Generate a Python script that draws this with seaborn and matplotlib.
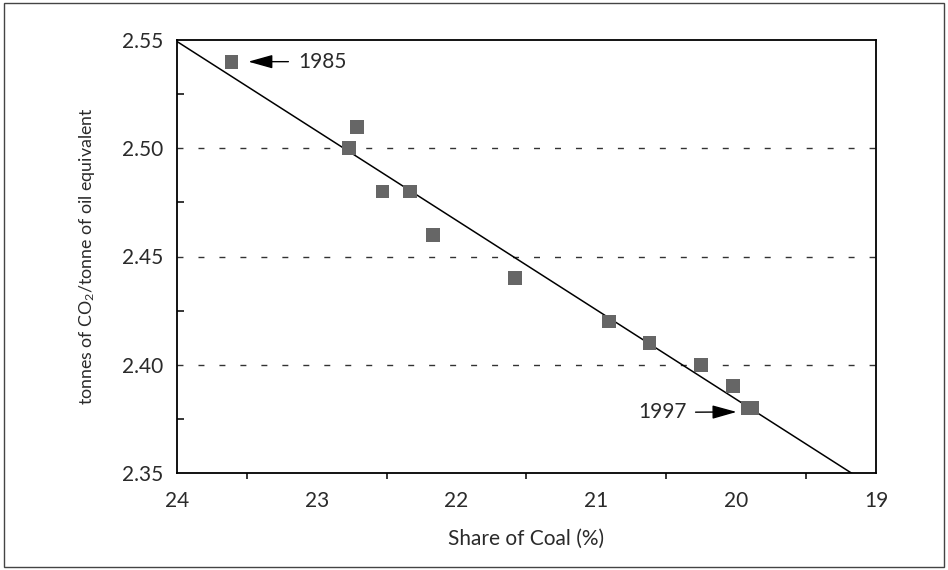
import matplotlib
matplotlib.use("Agg")
import matplotlib.pyplot as plt
import seaborn as sns
import pandas as pd
from matplotlib.ticker import MultipleLocator
from matplotlib.patches import Rectangle

# Share of coal in primary energy (%) and carbon intensity, 1985-1997
years = [1985, 1986, 1987, 1988, 1989, 1990, 1991, 1992, 1993, 1994, 1995, 1996, 1997]
coal_share = [23.61, 22.71, 22.77, 22.53, 22.33, 22.17, 21.58, 20.91, 20.62, 20.25, 20.02, 19.915, 19.887]
co2_per_toe = [2.54, 2.51, 2.50, 2.48, 2.48, 2.46, 2.44, 2.42, 2.41, 2.40, 2.39, 2.38, 2.38]

x_ticks = [24, 23, 22, 21, 20, 19]
y_ticks = [2.35, 2.40, 2.45, 2.50, 2.55]
y_grid = [2.40, 2.45, 2.50]

df = pd.DataFrame({"year": years, "coal": coal_share, "co2": co2_per_toe})

sns.set_theme(style="white")
plt.rcParams["font.family"] = ["Lato", "DejaVu Sans"]
plt.rcParams["mathtext.default"] = "regular"

fig = plt.figure(figsize=(9.48, 5.70), dpi=100)
ax = fig.add_axes([0.1867, 0.1702, 0.7373, 0.7596])

# Axis range first so the fitted line spans the full (reversed) x range
ax.set_xlim(24, 19)
ax.set_ylim(2.35, 2.55)

for g in y_grid:
    ax.axhline(g, color="#333333", lw=1.0, dashes=(4.3, 10.8), zorder=1)

sns.regplot(data=df, x="coal", y="co2", ax=ax, ci=None, truncate=False,
            scatter=False, line_kws=dict(color="black", lw=1.1, zorder=2))
sns.scatterplot(data=df, x="coal", y="co2", ax=ax, marker="s", s=100,
                color="#666666", edgecolor="none", linewidth=0, zorder=3)

ax.set_xlim(24, 19)
ax.set_ylim(2.35, 2.55)
ax.set_xticks(x_ticks)
ax.set_xticklabels([str(t) for t in x_ticks])
ax.xaxis.set_minor_locator(MultipleLocator(0.5))
ax.set_yticks(y_ticks)
ax.set_yticklabels([f"{t:.2f}" for t in y_ticks])
ax.yaxis.set_minor_locator(MultipleLocator(0.025))

tick_color = "#2a2a2a"
ax.tick_params(axis="x", which="major", direction="out", length=7, width=1.1,
               color="black", labelsize=15, pad=6, labelcolor=tick_color)
ax.tick_params(axis="x", which="minor", direction="out", length=4, width=1.1,
               color="black", bottom=True)
ax.tick_params(axis="y", which="major", direction="in", length=5, width=1.1,
               color="black", labelsize=15, pad=10, labelcolor=tick_color)
ax.tick_params(axis="y", which="minor", direction="in", length=5, width=1.1,
               color="black", left=True)

for sp in ax.spines.values():
    sp.set_color("black")
    sp.set_linewidth(1.3)

ax.set_xlabel("Share of Coal (%)", fontsize=15, color=tick_color, labelpad=13)
ax.set_ylabel("tonnes of CO$_2$/tonne of oil equivalent", fontsize=12.8,
              color=tick_color, labelpad=18)

# Labels for the first and last years of the series
first, last = 0, len(years) - 1
arrow = dict(arrowstyle="-|>,head_length=1.0,head_width=0.28",
             color="black", lw=1.0, shrinkB=0)
ax.annotate(str(years[first]), xy=(coal_share[first] - 0.12, co2_per_toe[first]),
            xytext=(coal_share[first] - 0.48, co2_per_toe[first]),
            fontsize=15, color=tick_color, va="center", ha="left",
            arrowprops=dict(arrow, shrinkA=5))
ax.annotate(str(years[last]), xy=(coal_share[last] + 0.11, co2_per_toe[last] - 0.0018),
            xytext=(coal_share[last] + 0.64, co2_per_toe[last] - 0.0020),
            fontsize=15, color=tick_color, va="center", ha="center",
            arrowprops=dict(arrow, shrinkA=4))

fig.patches.append(Rectangle((0.004, 0.005), 0.992, 0.99, transform=fig.transFigure,
                             fill=False, edgecolor="#444444", lw=1.0))

fig.savefig("out.png", dpi=100)
